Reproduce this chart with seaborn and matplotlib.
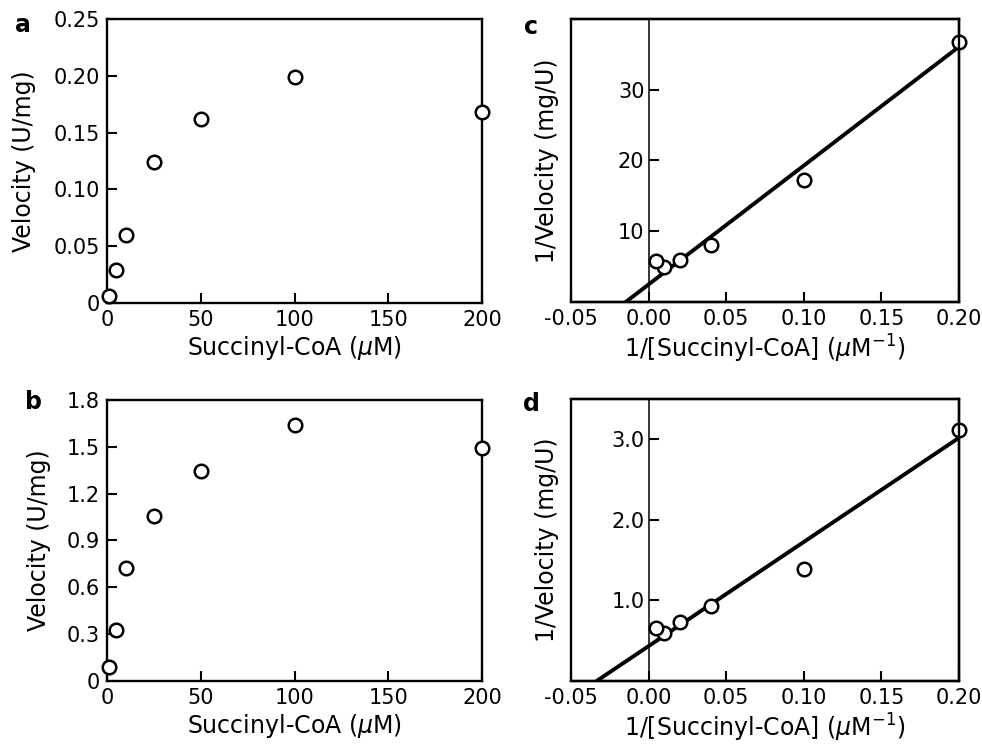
import numpy as np
import pandas as pd
import matplotlib
matplotlib.use('Agg')
import matplotlib.pyplot as plt
from matplotlib.patches import Rectangle
import seaborn as sns

# Data
conc = [1, 5, 10, 25, 50, 100, 200]                      # Succinyl-CoA (uM)
vel_a = [0.006, 0.029, 0.060, 0.124, 0.162, 0.199, 0.168]  # U/mg
vel_b = [0.088, 0.327, 0.724, 1.059, 1.343, 1.638, 1.490]  # U/mg

# Lineweaver-Burk points, same order as conc[1:]
inv_vel_c = [36.7, 17.2, 8.02, 5.99, 4.95, 5.75]
inv_vel_d = [3.115, 1.391, 0.934, 0.737, 0.593, 0.663]

# fitted lines (slope, intercept) as drawn in the figure
fit_c = (168.0, 2.48)
fit_d = (12.93, 0.433)

a_yticks = [0, 0.05, 0.10, 0.15, 0.20, 0.25]
a_ylabels = ['0', '0.05', '0.10', '0.15', '0.20', '0.25']
b_yticks = [0, 0.3, 0.6, 0.9, 1.2, 1.5, 1.8]
b_ylabels = ['0', '0.3', '0.6', '0.9', '1.2', '1.5', '1.8']
conc_ticks = [0, 50, 100, 150, 200]
lb_xticks = [-0.05, 0.0, 0.05, 0.10, 0.15, 0.20]
lb_xlabels = ['-0.05', '0.00', '0.05', '0.10', '0.15', '0.20']
c_yticks = [10, 20, 30]
d_yticks = [1.0, 2.0, 3.0]
d_ylabels = ['1.0', '2.0', '3.0']

sns.set_style('ticks')
plt.rcParams['font.family'] = ['DejaVu Sans']
plt.rcParams['mathtext.fontset'] = 'dejavusans'
for k in ['text.color', 'axes.edgecolor', 'axes.labelcolor',
          'xtick.color', 'ytick.color']:
    plt.rcParams[k] = 'black'

fig = plt.figure(figsize=(9.82, 7.44), dpi=100)
ax_a = fig.add_axes([0.109, 0.5927, 0.382, 0.3817])
ax_b = fig.add_axes([0.109, 0.0847, 0.382, 0.3777])
ax_c = fig.add_axes([0.5815, 0.5941, 0.3951, 0.3804])
ax_d = fig.add_axes([0.5815, 0.0847, 0.3951, 0.379])

mk = dict(marker='o', s=95, facecolor='white', edgecolor='black',
          linewidth=1.8, zorder=5, clip_on=False, legend=False)

xlab_conc = r'Succinyl-CoA ($\mu$M)'
xlab_inv = r'1/[Succinyl-CoA] ($\mu$M$^{-1}$)'


def style_box(ax):
    for s in ax.spines.values():
        s.set_linewidth(1.7)
        s.set_visible(True)
    ax.tick_params(direction='in', length=7, width=1.5, labelsize=15,
                   top=False, right=False, pad=5)


# Panels a and b: velocity vs concentration
for ax, vel, yt, yl in [(ax_a, vel_a, a_yticks, a_ylabels),
                        (ax_b, vel_b, b_yticks, b_ylabels)]:
    df = pd.DataFrame({'conc': conc, 'vel': vel})
    sns.scatterplot(data=df, x='conc', y='vel', ax=ax, **mk)
    ax.set_xlim(0, 200)
    ax.set_ylim(yt[0], yt[-1])
    ax.set_xticks(conc_ticks)
    ax.set_yticks(yt)
    ax.set_yticklabels(yl)
    style_box(ax)
    ax.set_xlabel(xlab_conc, fontsize=17, labelpad=3)
    ax.set_ylabel('Velocity (U/mg)', fontsize=17)

ax_a.yaxis.set_label_coords(-0.19, 0.5)
ax_b.yaxis.set_label_coords(-0.15, 0.5)

# Panels c and d: Lineweaver-Burk
inv_conc = [1.0 / c for c in conc[1:]]
for ax, inv_vel, fit, yt, ymax in [(ax_c, inv_vel_c, fit_c, c_yticks, 40),
                                   (ax_d, inv_vel_d, fit_d, d_yticks, 3.5)]:
    slope, icpt = fit
    x0 = -icpt / slope
    line_df = pd.DataFrame({'x': [x0, max(inv_conc)]})
    line_df['y'] = slope * line_df['x'] + icpt
    sns.lineplot(data=line_df, x='x', y='y', ax=ax, color='black',
                 linewidth=2.8, zorder=3)
    df = pd.DataFrame({'x': inv_conc, 'y': inv_vel})
    sns.scatterplot(data=df, x='x', y='y', ax=ax, **mk)
    ax.set_xlim(-0.05, 0.20)
    ax.set_ylim(0, ymax)
    ax.set_xticks(lb_xticks)
    ax.set_xticklabels(lb_xlabels)
    ax.set_yticks(yt)
    style_box(ax)
    # y axis sits on x = 0, box drawn as a frame
    ax.spines['left'].set_position(('data', 0))
    ax.spines['left'].set_linewidth(1.1)
    ax.add_patch(Rectangle((0, 0), 1, 1, transform=ax.transAxes, fill=False,
                           linewidth=1.7, edgecolor='black', clip_on=False, zorder=6))
    ax.tick_params(axis='y', pad=3)
    ax.set_xlabel(xlab_inv, fontsize=17, labelpad=3)
    ax.set_ylabel('1/Velocity (mg/U)', fontsize=17)
    ax.yaxis.set_label_coords(-0.032, 0.5)

ax_d.set_yticklabels(d_ylabels)

for lab, x, y in [('a', 0.023, 0.966), ('b', 0.034, 0.46),
                  ('c', 0.541, 0.964), ('d', 0.541, 0.457)]:
    fig.text(x, y, lab, fontsize=17, fontweight='bold', ha='center', va='center')

plt.savefig('out.png', dpi=100)
